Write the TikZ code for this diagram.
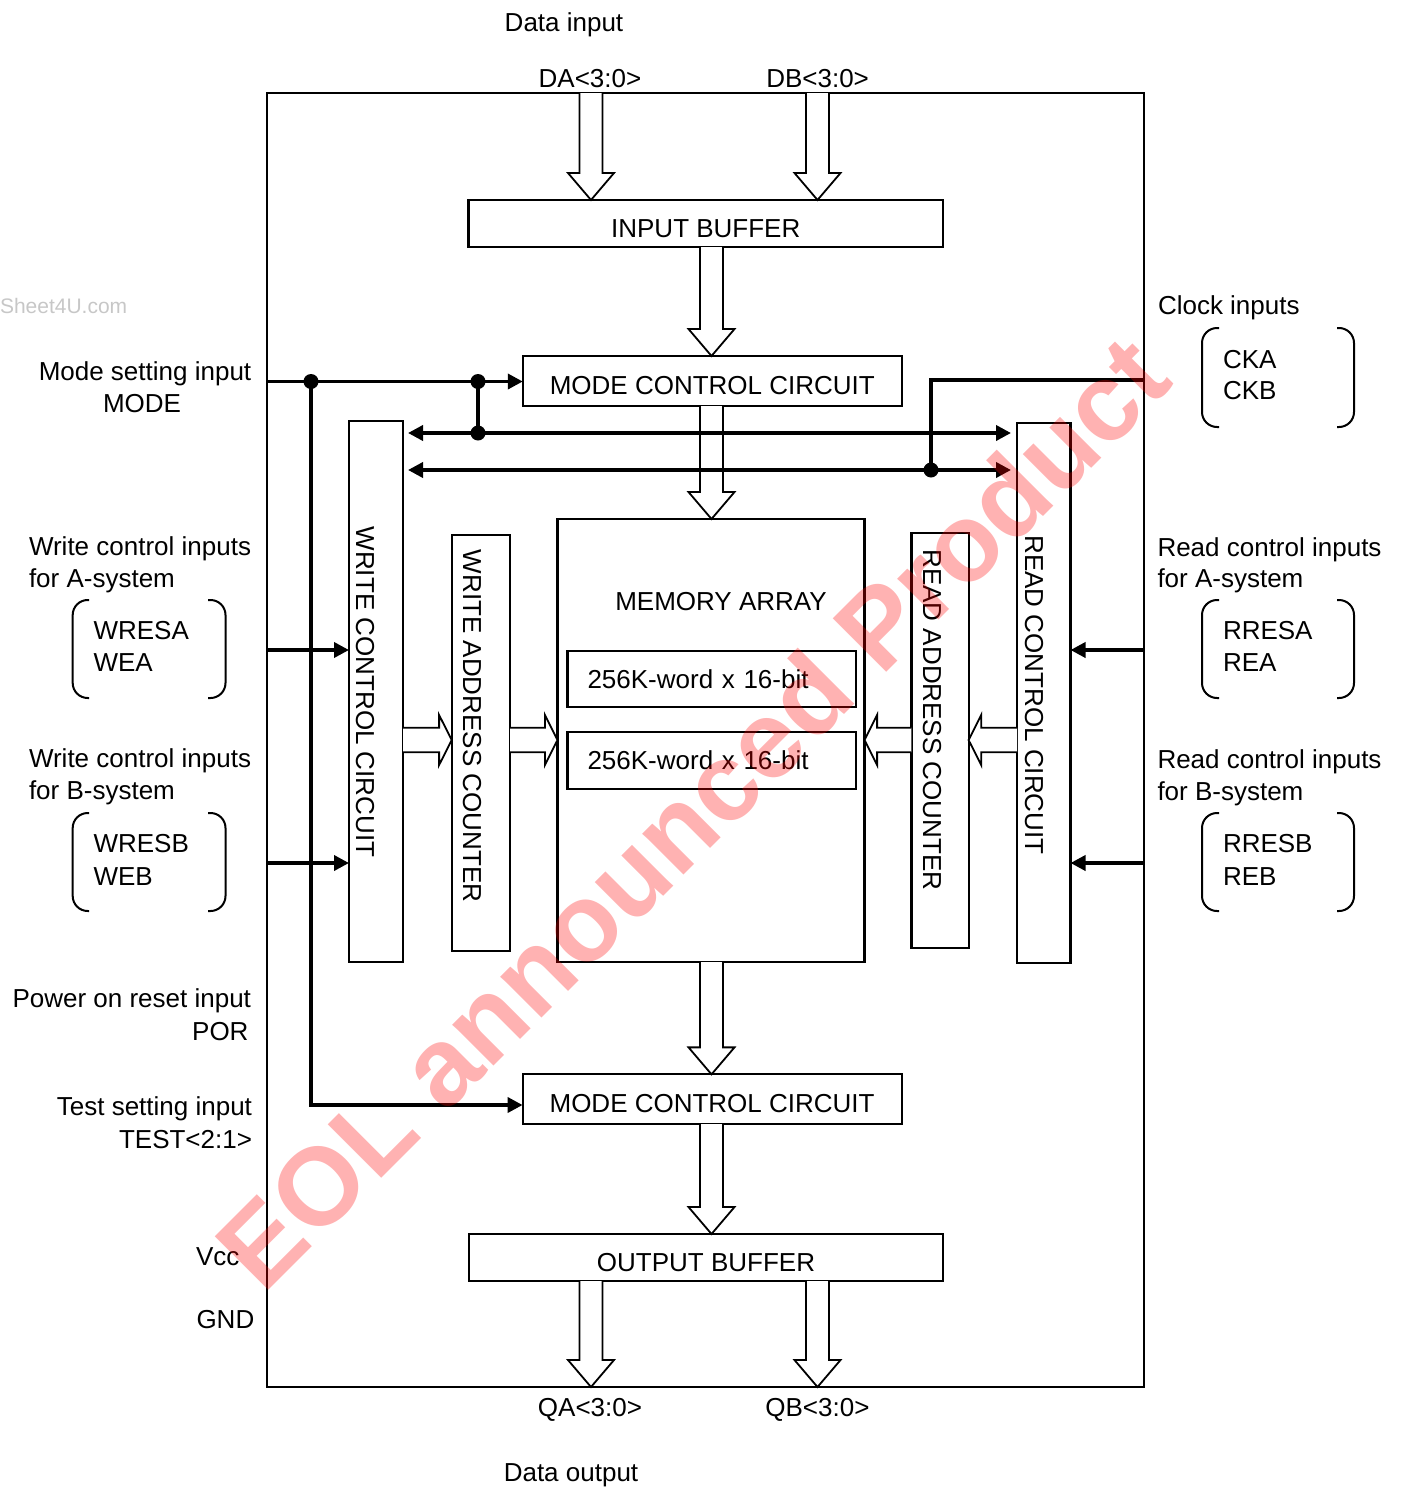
\documentclass[tikz,border=0pt]{standalone}
\usepackage{fontspec}
\setmainfont{Liberation Sans}
\usetikzlibrary{arrows.meta,calc}

\newcommand\hollowdown[2]{\draw[hollow] let \p1=(#1), \p2=(#2) in
  (\x1-11.5pt,\y1) -- (\x1-11.5pt,\y2+27pt) -- (\x1-23pt,\y2+27pt) -- (\x1,\y2)
  -- (\x1+23pt,\y2+27pt) -- (\x1+11.5pt,\y2+27pt) -- (\x1+11.5pt,\y1);}
\newcommand\hollowright[2]{\draw[hollow] let \p1=(#1), \p2=(#2) in
  (\x1,\y1+12.3pt) -- (\x2-12.6pt,\y1+12.3pt) -- (\x2-12.6pt,\y1+25pt) -- (\x2,\y1)
  -- (\x2-12.6pt,\y1-25pt) -- (\x2-12.6pt,\y1-12.3pt) -- (\x1,\y1-12.3pt);}
\newcommand\hollowleft[2]{\draw[hollow] let \p1=(#1), \p2=(#2) in
  (\x1,\y1+12.3pt) -- (\x2+12.6pt,\y1+12.3pt) -- (\x2+12.6pt,\y1+25pt) -- (\x2,\y1)
  -- (\x2+12.6pt,\y1-25pt) -- (\x2+12.6pt,\y1-12.3pt) -- (\x1,\y1-12.3pt);}

\begin{document}
\begin{tikzpicture}[x=1pt,y=-1pt,
  every node/.style={font=\fontsize{26}{32}\selectfont},
  blk/.style={draw, line width=2.2pt, inner sep=0pt, outer sep=0pt},
  hbox/.style={blk, text height=27pt, text depth=0pt},
  lbl/.style={inner sep=0pt, outer sep=0pt},
  hollow/.style={draw, line width=1.8pt, fill=white, line join=miter},
  sig/.style={line width=3.6pt},
  tip/.style={-{Triangle[length=15pt,width=15pt]}},
  tips/.style={{Triangle[length=15pt,width=15pt]}-{Triangle[length=15pt,width=15pt]}},
  brk/.style={line width=2pt, rounded corners=15pt},
]
\useasboundingbox (0,0) rectangle (1405,1488);

% ---------- blocks ----------
\node[blk, line width=2.6pt, minimum width=877pt, minimum height=1294pt] (chip) at (705.5,740) {};
\node[hbox, minimum width=474.5pt, minimum height=47pt] (ib) at (705.75,223.5) {INPUT BUFFER};
\node[hbox, minimum width=379pt, minimum height=50pt] (mc1) at (712.3,381) {MODE CONTROL CIRCUIT};
\node[blk, minimum width=307pt, minimum height=443pt] (mem) at (711,740.5) {};
\node[lbl] (memlbl) at (721,602) {MEMORY ARRAY};
\node[blk, minimum height=56pt, text width=248.5pt, inner xsep=20pt, align=left] (m1) at (711.75,679) {256K-word x 16-bit};
\node[blk, minimum height=57pt, text width=248.5pt, inner xsep=20pt, align=left] (m2) at (711.75,760.5) {256K-word x 16-bit};
\node[blk, minimum width=54pt, minimum height=541pt] (wcc) at (376,691.5) {};
\node[blk, minimum width=58.3pt, minimum height=416pt] (wac) at (480.85,743) {};
\node[blk, minimum width=57.2pt, minimum height=415pt] (rac) at (940,740.8) {};
\node[blk, minimum width=53.5pt, minimum height=540.6pt] (rcc) at (1043.75,693) {};
\node[hbox, minimum width=379pt, minimum height=49.7pt] (mc2) at (712.1,1099.2) {MODE CONTROL CIRCUIT};
\node[hbox, minimum width=474pt, minimum height=47pt] (ob) at (706,1257.5) {OUTPUT BUFFER};

\node[lbl, rotate=-90] (wcct) at (365,692) {WRITE CONTROL CIRCUIT};
\node[lbl, rotate=-90] (wact) at (472,726) {WRITE ADDRESS COUNTER};
\node[lbl, rotate=-90] (ract) at (932,720) {READ ADDRESS COUNTER};
\node[lbl, rotate=-90] (rcct) at (1034,695) {READ CONTROL CIRCUIT};

% ---------- hollow (bus) arrows ----------
\coordinate (da) at (591,93);
\coordinate (db) at (817.5,93);
\coordinate (cx) at (711.5,0);
\coordinate (hy) at (0,740);
\hollowdown{da}{da |- ib.north}
\hollowdown{db}{db |- ib.north}
\hollowdown{cx |- ib.south}{cx |- mc1.north}
\hollowdown{cx |- mc1.south}{cx |- mem.north}
\hollowdown{cx |- mem.south}{cx |- mc2.north}
\hollowdown{cx |- mc2.south}{cx |- ob.north}
\hollowdown{da |- ob.south}{da |- chip.south}
\hollowdown{db |- ob.south}{db |- chip.south}
\hollowright{wcc.east |- hy}{wac.west |- hy}
\hollowright{wac.east |- hy}{mem.west |- hy}
\hollowleft{rac.west |- hy}{mem.east |- hy}
\hollowleft{rcc.west |- hy}{rac.east |- hy}

% ---------- control signals ----------
\coordinate (modein) at (267,381.5);
\coordinate (j1) at (311,381.5);
\coordinate (j2) at (478,381.5);
\coordinate (j3) at (478,433);
\coordinate (tin) at (311,1105);
\coordinate (ckin) at (1144,380);
\coordinate (j4) at (931,470);
\coordinate (wa) at (267,650);
\coordinate (wb) at (267,863);
\coordinate (ra) at (1144,650);
\coordinate (rb) at (1144,863);

\draw[sig, tip] (modein) -- (modein -| mc1.west);
\draw[sig] (j2) -- (j3);
\draw[sig, tip] (j1) -- (tin) -- (tin -| mc2.west);
\draw[sig, tips, shorten <=5pt, shorten >=6pt] (wcc.east |- j3) -- (rcc.west |- j3);
\draw[sig, tips, shorten <=5pt, shorten >=6pt] (wcc.east |- j4) -- (rcc.west |- j4);
\draw[sig] (ckin) -| (j4);
\foreach \p in {j1,j2,j3,j4} \fill (\p) circle (7.5);

\draw[sig, tip] (wa) -- (wa -| wcc.west);
\draw[sig, tip] (wb) -- (wb -| wcc.west);
\draw[sig, tip] (ra) -- (ra -| rcc.east);
\draw[sig, tip] (rb) -- (rb -| rcc.east);

% ---------- brackets ----------
\draw[brk] (89,600) -- (72.7,600) -- (72.7,698) -- (89,698);
\draw[brk] (208,600) -- (225.5,600) -- (225.5,698) -- (208,698);
\draw[brk] (89,813) -- (72.7,813) -- (72.7,911) -- (89,911);
\draw[brk] (208,813) -- (225.5,813) -- (225.5,911) -- (208,911);
\draw[brk] (1219,328) -- (1202,328) -- (1202,427) -- (1219,427);
\draw[brk] (1337,328) -- (1354,328) -- (1354,427) -- (1337,427);
\draw[brk] (1219,600) -- (1202,600) -- (1202,698) -- (1219,698);
\draw[brk] (1337,600) -- (1354,600) -- (1354,698) -- (1337,698);
\draw[brk] (1219,813) -- (1202,813) -- (1202,911) -- (1219,911);
\draw[brk] (1337,813) -- (1354,813) -- (1354,911) -- (1337,911);

% ---------- labels ----------
\node[lbl, anchor=base] (t1) at (564,31.7) {Data input};
\node[lbl, anchor=base] (t2) at (590,87) {DA<3:0>};
\node[lbl, anchor=base] (t3) at (817.6,87) {DB<3:0>};
\node[lbl, anchor=base] (t4) at (590,1416.7) {QA<3:0>};
\node[lbl, anchor=base] (t5) at (817.4,1416.7) {QB<3:0>};
\node[lbl, anchor=base] (t6) at (571,1481) {Data output};

\node[lbl, anchor=base] (l1) at (145,380) {Mode setting input};
\node[lbl, anchor=base] (l2) at (142,412.7) {MODE};
\node[lbl, anchor=base west] (l3) at (29,555) {Write control inputs};
\node[lbl, anchor=base west] (l4) at (29,587) {for A-system};
\node[lbl, anchor=base west] (l5) at (93.5,639.3) {WRESA};
\node[lbl, anchor=base west] (l6) at (93.5,671.7) {WEA};
\node[lbl, anchor=base west] (l7) at (29,767.3) {Write control inputs};
\node[lbl, anchor=base west] (l8) at (29,799.5) {for B-system};
\node[lbl, anchor=base west] (l9) at (93.5,852.7) {WRESB};
\node[lbl, anchor=base west] (l10) at (93.5,885) {WEB};
\node[lbl, anchor=base east] (l11) at (251,1007.3) {Power on reset input};
\node[lbl, anchor=base east] (l12) at (248.5,1040) {POR};
\node[lbl, anchor=base east] (l13) at (252,1115.7) {Test setting input};
\node[lbl, anchor=base east] (l14) at (252,1148.3) {TEST<2:1>};
\node[lbl, anchor=base west] (l15) at (196,1265) {Vcc};
\node[lbl, anchor=base west] (l16) at (196.5,1328.3) {GND};

\node[lbl, anchor=base west] (r1) at (1158,314.3) {Clock inputs};
\node[lbl, anchor=base west] (r2) at (1223,368.3) {CKA};
\node[lbl, anchor=base west] (r3) at (1223,399) {CKB};
\node[lbl, anchor=base west] (r4) at (1157.5,556) {Read control inputs};
\node[lbl, anchor=base west] (r5) at (1157.5,587.5) {for A-system};
\node[lbl, anchor=base west] (r6) at (1223,639.3) {RRESA};
\node[lbl, anchor=base west] (r7) at (1223,671.7) {REA};
\node[lbl, anchor=base west] (r8) at (1157.5,768) {Read control inputs};
\node[lbl, anchor=base west] (r9) at (1157.5,800) {for B-system};
\node[lbl, anchor=base west] (r10) at (1223,852.7) {RRESB};
\node[lbl, anchor=base west] (r11) at (1223,885) {REB};

% ---------- watermarks ----------
\node[lbl, anchor=base west, text=black!22, font=\fontsize{21}{24}\selectfont] (wm1) at (0,313) {Sheet4U.com};
\node[lbl, rotate=45, text=red, opacity=0.3, font=\bfseries\fontsize{110}{120}\selectfont] (wm2) at (692,812) {EOL announced Product};
\end{tikzpicture}
\end{document}
